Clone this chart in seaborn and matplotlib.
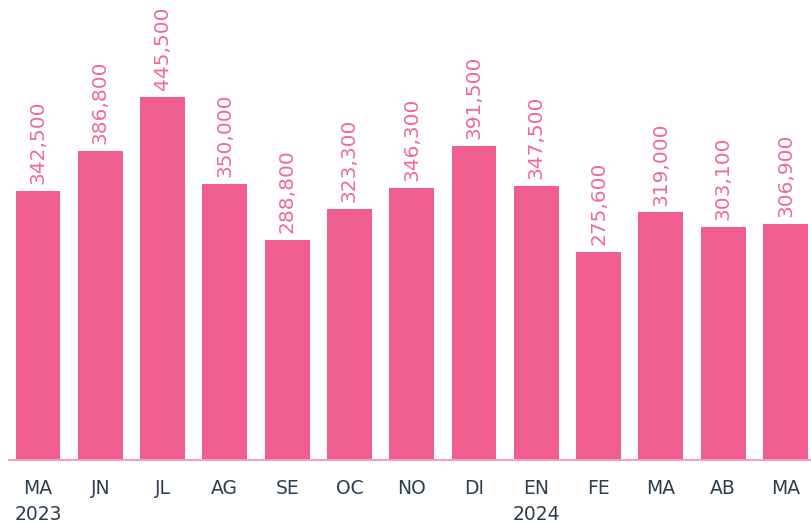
import matplotlib
matplotlib.use("Agg")
import matplotlib.pyplot as plt
import seaborn as sns
import pandas as pd

months = ["MA", "JN", "JL", "AG", "SE", "OC", "NO", "DI", "EN", "FE", "MA", "AB", "MA"]
years = ["2023", "", "", "", "", "", "", "", "2024", "", "", "", ""]
values = [342500, 386800, 445500, 350000, 288800, 323300, 346300,
          391500, 347500, 275600, 319000, 303100, 306900]

bar_color = "#EF5E8F"
label_color = "#F06A96"
tick_color = "#2F3E4E"

sns.set_theme(style="white")
plt.rcParams["font.family"] = ["DejaVu Sans"]

df = pd.DataFrame({"pos": range(len(values)), "value": values})

fig = plt.figure(figsize=(8.11, 5.24), dpi=100)
ax = fig.add_axes([9 / 811, 64 / 524, 802 / 811, 460 / 524])

sns.barplot(data=df, x="pos", y="value", color=bar_color, saturation=1,
            width=0.72, linewidth=0, ax=ax, native_scale=True)

ax.set_xlim(-0.465, 12.41)
ax.set_ylim(48000, 551600)

for i, v in enumerate(values):
    ax.annotate(f"{v:,}", (i, v), xytext=(0, 5), textcoords="offset points",
                rotation=90, ha="center", va="bottom",
                fontsize=14.5, color=label_color)

ax.set_xticks(range(len(values)))
ax.set_xticklabels([m + ("\n" + y if y else "") for m, y in zip(months, years)],
                   fontsize=13.5, color=tick_color, linespacing=1.45)
ax.tick_params(axis="x", length=0, pad=14)
ax.set_yticks([])
ax.set_xlabel("")
ax.set_ylabel("")

for s in ["top", "right", "left"]:
    ax.spines[s].set_visible(False)
ax.spines["bottom"].set_color("#F3A0BE")
ax.spines["bottom"].set_linewidth(1.5)

fig.savefig("out.png", dpi=100)
